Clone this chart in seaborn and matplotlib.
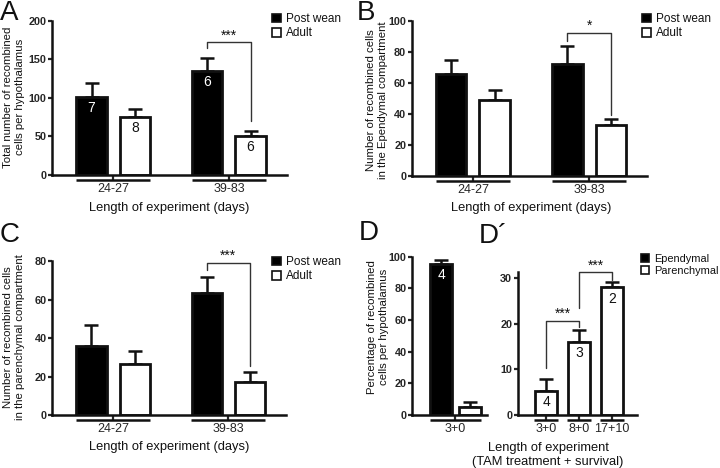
import numpy as np
import pandas as pd
import matplotlib
matplotlib.use('Agg')
import matplotlib.pyplot as plt
import matplotlib.transforms as mtransforms
from matplotlib.patches import Patch
import seaborn as sns

# ---- data ----
groups = ['24-27', '39-83']
ages = ['Post wean', 'Adult']

total_pw = [101.5, 135.2]
total_pw_sem = [17.3, 16.0]
total_ad = [74.8, 50.5]
total_ad_sem = [10.2, 6.5]
total_pw_n = [7, 6]
total_ad_n = [8, 6]

epend_pw = [65.6, 72.0]
epend_pw_sem = [9.0, 11.9]
epend_ad = [48.8, 32.7]
epend_ad_sem = [6.5, 3.9]

paren_pw = [36.1, 63.7]
paren_pw_sem = [10.9, 8.0]
paren_ad = [26.5, 17.3]
paren_ad_sem = [6.7, 5.2]

d_cat = ['3+0']
d_types = ['Ependymal', 'Parenchymal']
d_mean = [95.6, 5.3]
d_sem = [2.5, 2.7]
d_n = [4, None]

dp_cats = ['3+0', '8+0', '17+10']
dp_mean = [5.3, 15.9, 27.9]
dp_sem = [2.5, 2.6, 1.2]
dp_n = [4, 3, 2]

sns.set_theme(style='ticks')
plt.rcParams['font.family'] = ['Liberation Sans', 'DejaVu Sans']
plt.rcParams['text.color'] = '#111111'
plt.rcParams['axes.edgecolor'] = '#111111'

W, H = 720, 468
fig = plt.figure(figsize=(7.2, 4.68), dpi=100)
fig.patch.set_facecolor('white')


def fx(x):
    return x / W


def fy(y):
    return 1 - y / H


def add_ax(left, top, right, bottom):
    return fig.add_axes([left / W, 1 - bottom / H, (right - left) / W, (bottom - top) / H])


def style_axis(ax, ymax, yticks, xlim):
    ax.set_xlim(xlim)
    ax.set_ylim(0, ymax)
    ax.set_yticks(yticks)
    sns.despine(ax=ax)
    for s in ['left', 'bottom']:
        ax.spines[s].set_linewidth(1.8)
    ax.tick_params(axis='y', length=3, width=1.6, labelsize=7.8, pad=1)
    for lab in ax.get_yticklabels():
        lab.set_fontweight('bold')
    ax.tick_params(axis='x', length=3.6, width=1.6, labelsize=9, pad=2.3)
    ax.set_xlabel('')
    ax.set_ylabel('')
    ax.set_facecolor('white')


def underline(ax, centers, half):
    trans = mtransforms.offset_copy(ax.get_xaxis_transform(), y=-5, units='dots')
    for c in centers:
        ax.plot([c - half, c + half], [0, 0], transform=trans, color='#111111',
                lw=1.8, clip_on=False, solid_capstyle='butt')


def bar_info(ax):
    xs = [p.get_x() + p.get_width() / 2 for p in ax.patches]
    hs = [p.get_height() for p in ax.patches]
    return xs, hs


def errbars(ax, sems):
    xs, hs = bar_info(ax)
    ax.errorbar(xs, hs, yerr=[np.zeros(len(sems)), sems], fmt='none', ecolor='#111111',
                elinewidth=1.8, capsize=5, capthick=1.8, zorder=0.5)


def numbers(ax, ns):
    for p, n in zip(ax.patches, ns):
        if n is None:
            continue
        dark = p.get_facecolor()[0] < 0.5
        ax.annotate(str(n), (p.get_x() + p.get_width() / 2, p.get_height()),
                    xytext=(0, -8), textcoords='offset points', ha='center', va='center',
                    fontsize=10, color='white' if dark else '#111111')


def bracket(ax, x1, x2, ytop, y1, y2, stars):
    ax.plot([x1, x1, x2, x2], [y1, ytop, ytop, y2], color='#333333', lw=1.0,
            clip_on=False)
    ax.text((x1 + x2) / 2, ytop, stars, ha='center', va='bottom', fontsize=10,
            clip_on=False)


def age_panel(ax, pw, pw_sem, ad, ad_sem, ymax, yticks, pw_n=None, ad_n=None):
    df = pd.DataFrame({
        'group': groups * 2,
        'age': [ages[0]] * 2 + [ages[1]] * 2,
        'value': pw + ad,
    })
    sns.barplot(data=df, x='group', y='value', hue='age', hue_order=ages, order=groups,
                palette={'Post wean': 'black', 'Adult': 'white'}, errorbar=None,
                width=0.75, gap=0.3, edgecolor='#111111', linewidth=2.0,
                saturation=1, legend=False, ax=ax)
    errbars(ax, pw_sem + ad_sem)
    if pw_n is not None:
        numbers(ax, pw_n + ad_n)
    style_axis(ax, ymax, yticks, (-0.527, 1.5))
    underline(ax, [0, 1], 0.32)
    handles = [Patch(facecolor='black', edgecolor='#111111', lw=1.2),
               Patch(facecolor='white', edgecolor='#111111', lw=1.2)]
    return handles


def legend_at(ax, handles, labels, x, y, size=8.5):
    ax.legend(handles, labels, loc='upper left', bbox_to_anchor=(fx(x), fy(y)),
              bbox_transform=fig.transFigure, frameon=False, fontsize=size,
              handlelength=0.75, handleheight=0.75, handletextpad=0.45,
              labelspacing=0.2, borderpad=0, borderaxespad=0)


# ---- A ----
axA = add_ax(52.3, 20.7, 286.7, 175)
hA = age_panel(axA, total_pw, total_pw_sem, total_ad, total_ad_sem, 200,
               [0, 50, 100, 150, 200], total_pw_n, total_ad_n)
xs, _ = bar_info(axA)
bracket(axA, xs[1], xs[3], 172, 164, 70, '***')
legend_at(axA, hA, ages, 272, 13)

# ---- B ----
axB = add_ax(411.7, 20.7, 647.3, 175.7)
hB = age_panel(axB, epend_pw, epend_pw_sem, epend_ad, epend_ad_sem, 100,
               [0, 20, 40, 60, 80, 100])
xs, _ = bar_info(axB)
bracket(axB, xs[1], xs[3], 91.9, 87.1, 39.2, '*')
legend_at(axB, hB, ages, 642, 13)

# ---- C ----
axC = add_ax(52.3, 261.3, 286, 415)
hC = age_panel(axC, paren_pw, paren_pw_sem, paren_ad, paren_ad_sem, 80,
               [0, 20, 40, 60, 80])
xs, _ = bar_info(axC)
bracket(axC, xs[1], xs[3], 79, 75.5, 25.7, '***')
legend_at(axC, hC, ages, 272, 256)

# ---- D ----
axD = add_ax(412.3, 256.7, 486.7, 415)
dfD = pd.DataFrame({'cat': d_cat * 2, 'type': d_types, 'value': d_mean})
sns.barplot(data=dfD, x='cat', y='value', hue='type', hue_order=d_types,
            palette={'Ependymal': 'black', 'Parenchymal': 'white'}, errorbar=None,
            width=0.75, gap=0.24, edgecolor='#111111', linewidth=2.0,
            saturation=1, legend=False, ax=axD)
errbars(axD, d_sem)
numbers(axD, d_n)
style_axis(axD, 100, [0, 20, 40, 60, 80, 100], (-0.559, 0.404))
underline(axD, [0], 0.33)

# ---- D' ----
axDp = add_ax(517.7, 272.3, 636.7, 415)
sns.barplot(x=dp_cats, y=dp_mean, color='white', errorbar=None, width=0.685,
            edgecolor='#111111', linewidth=2.0, saturation=1, ax=axDp)
errbars(axDp, dp_sem)
numbers(axDp, dp_n)
style_axis(axDp, 31.2, [0, 10, 20, 30], (-0.868, 2.755))
underline(axDp, [0, 1, 2], 0.37)
xs, _ = bar_info(axDp)
bracket(axDp, xs[0], xs[1], 20.6, 10.3, 19.2, '***')
bracket(axDp, xs[1], xs[2], 31.2, 23.4, 29.6, '***')
hD = [Patch(facecolor='black', edgecolor='#111111', lw=1.2),
      Patch(facecolor='white', edgecolor='#111111', lw=1.2)]
legend_at(axDp, hD, d_types, 641, 254, size=7.9)

# ---- axis titles ----
ylab_kw = dict(rotation=90, ha='center', va='center', fontsize=8.2, linespacing=1.25,
               multialignment='center')
fig.text(fx(14), fy(97), 'Total number of recombined\ncells per hypothalamus', **ylab_kw)
fig.text(fx(377.5), fy(100), 'Number of recombined cells\nin the Ependymal compartment', **ylab_kw)
fig.text(fx(14.5), fy(337), 'Number of recombined cells\nin the parenchymal compartment', **ylab_kw)
fig.text(fx(378), fy(327), 'Percentage of recombined\ncells per hypothalamus', **ylab_kw)

xlab_kw = dict(ha='center', va='center', fontsize=9.3)
fig.text(fx(169.5), fy(208), 'Length of experiment (days)', **xlab_kw)
fig.text(fx(531), fy(208), 'Length of experiment (days)', **xlab_kw)
fig.text(fx(169), fy(447), 'Length of experiment (days)', **xlab_kw)
fig.text(fx(548), fy(455), 'Length of experiment\n(TAM treatment + survival)',
         linespacing=1.3, **xlab_kw)

# ---- panel letters ----
let_kw = dict(fontsize=20, ha='left', va='top')
fig.text(fx(0), fy(0.5), 'A', **let_kw)
fig.text(fx(357), fy(0.5), 'B', **let_kw)
fig.text(fx(0), fy(222), 'C', **let_kw)
fig.text(fx(359), fy(220), 'D', **let_kw)
fig.text(fx(479), fy(223), 'D\u00b4', **let_kw)

fig.savefig('out.png', dpi=100, facecolor='white')
